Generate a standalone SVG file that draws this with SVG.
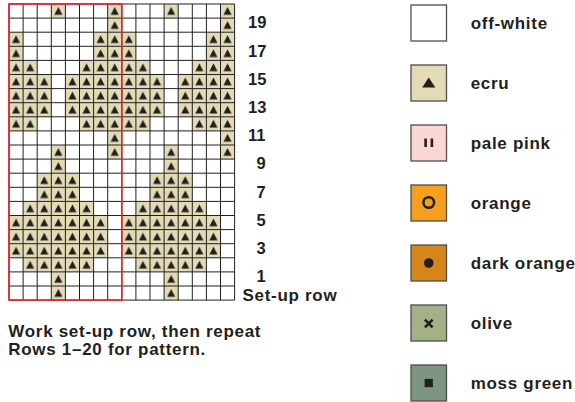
<svg xmlns="http://www.w3.org/2000/svg" width="575" height="402" viewBox="0 0 575 402">
<style>
  text { font-family: "Liberation Sans", Arial, sans-serif; font-weight: bold; fill: #231f20; }
  .lbl { font-size: 17px; letter-spacing: 0.7px; }
  .num { font-size: 16.5px; }
  .e { fill: url(#tp); }
  .grid { fill: none; stroke: #231f20; stroke-width: 1; }
  .box { stroke: #4d4d4d; stroke-width: 1.3; }
  .sym { fill: #231f20; }
</style>
<defs>
  <pattern id="tp" x="9" y="4" width="14.1" height="14.1" patternUnits="userSpaceOnUse">
    <rect width="14.1" height="14.1" fill="#e2dbb6"/>
    <path d="M3 10.8H11.1L7.05 3.1Z" fill="#231f20"/>
  </pattern>
</defs>

<g id="chart">
  <rect x="9" y="4" width="225.6" height="296.1" fill="#ffffff"/>
  <g id="ecru-cells">
    <rect class="e" x="51.3" y="4" width="14.1" height="14.1"/>
    <rect class="e" x="107.7" y="4" width="14.1" height="28.2"/>
    <rect class="e" x="164.1" y="4" width="14.1" height="14.1"/>
    <rect class="e" x="220.5" y="4" width="14.1" height="28.2"/>
    <rect class="e" x="9" y="32.2" width="14.1" height="28.2"/>
    <rect class="e" x="93.6" y="32.2" width="42.3" height="28.2"/>
    <rect class="e" x="206.4" y="32.2" width="28.2" height="28.2"/>
    <rect class="e" x="9" y="60.4" width="28.2" height="14.1"/>
    <rect class="e" x="79.5" y="60.4" width="70.5" height="14.1"/>
    <rect class="e" x="192.3" y="60.4" width="42.3" height="14.1"/>
    <rect class="e" x="9" y="74.5" width="42.3" height="42.3"/>
    <rect class="e" x="65.4" y="74.5" width="98.7" height="42.3"/>
    <rect class="e" x="178.2" y="74.5" width="56.4" height="42.3"/>
    <rect class="e" x="9" y="116.8" width="28.2" height="14.1"/>
    <rect class="e" x="79.5" y="116.8" width="70.5" height="14.1"/>
    <rect class="e" x="192.3" y="116.8" width="42.3" height="14.1"/>
    <rect class="e" x="107.7" y="130.9" width="14.1" height="28.2"/>
    <rect class="e" x="220.5" y="130.9" width="14.1" height="28.2"/>
    <rect class="e" x="51.3" y="145" width="14.1" height="28.2"/>
    <rect class="e" x="164.1" y="145" width="14.1" height="28.2"/>
    <rect class="e" x="37.2" y="173.2" width="42.3" height="28.2"/>
    <rect class="e" x="150" y="173.2" width="42.3" height="28.2"/>
    <rect class="e" x="23.1" y="201.4" width="70.5" height="14.1"/>
    <rect class="e" x="135.9" y="201.4" width="70.5" height="14.1"/>
    <rect class="e" x="9" y="215.5" width="98.7" height="42.3"/>
    <rect class="e" x="121.8" y="215.5" width="98.7" height="42.3"/>
    <rect class="e" x="23.1" y="257.8" width="70.5" height="14.1"/>
    <rect class="e" x="135.9" y="257.8" width="70.5" height="14.1"/>
    <rect class="e" x="51.3" y="271.9" width="14.1" height="28.2"/>
    <rect class="e" x="164.1" y="271.9" width="14.1" height="28.2"/>
  </g>
  <path class="grid" d="M9 4V300.1M23.1 4V300.1M37.2 4V300.1M51.3 4V300.1M65.4 4V300.1M79.5 4V300.1M93.6 4V300.1M107.7 4V300.1M121.8 4V300.1M135.9 4V300.1M150 4V300.1M164.1 4V300.1M178.2 4V300.1M192.3 4V300.1M206.4 4V300.1M220.5 4V300.1M234.6 4V300.1
  M9 4H234.6M9 18.1H234.6M9 32.2H234.6M9 46.3H234.6M9 60.4H234.6M9 74.5H234.6M9 88.6H234.6M9 102.7H234.6M9 116.8H234.6M9 130.9H234.6M9 145H234.6M9 159.1H234.6M9 173.2H234.6M9 187.3H234.6M9 201.4H234.6M9 215.5H234.6M9 229.6H234.6M9 243.7H234.6M9 257.8H234.6M9 271.9H234.6M9 286H234.6M9 300.1H234.6"/>
  <rect id="repeat-box" x="9" y="4" width="112.8" height="296.1" fill="none" stroke="#e8242b" stroke-width="1.6"/>
</g>

<g id="row-numbers">
  <text class="num" x="248" y="28.3">19</text>
  <text class="num" x="248" y="56.5">17</text>
  <text class="num" x="248" y="84.7">15</text>
  <text class="num" x="248" y="112.9">13</text>
  <text class="num" x="248" y="141.1">11</text>
  <text class="num" x="256.5" y="169.3">9</text>
  <text class="num" x="256.5" y="197.5">7</text>
  <text class="num" x="256.5" y="225.7">5</text>
  <text class="num" x="256.5" y="253.9">3</text>
  <text class="num" x="256.5" y="282.1">1</text>
  <text class="lbl" x="242.5" y="301">Set-up row</text>
</g>

<g id="note">
  <text class="lbl" x="8.3" y="337">Work set-up row, then repeat</text>
  <text class="lbl" x="8.3" y="355">Rows 1–20 for pattern.</text>
</g>

<g id="legend-off-white">
  <rect class="box" x="411" y="5" width="35.5" height="36" fill="#ffffff"/>
  <text class="lbl" x="470.7" y="28.5">off-white</text>
</g>
<g id="legend-ecru">
  <rect class="box" x="411" y="65" width="35.5" height="36" fill="#e2dbb6"/>
  <path class="sym" d="M422.2 87.5H435.3L428.75 77.5Z"/>
  <text class="lbl" x="470.7" y="88.5">ecru</text>
</g>
<g id="legend-pale-pink">
  <rect class="box" x="411" y="125" width="35.5" height="36" fill="#f8d7d5"/>
  <rect class="sym" x="424.3" y="138.5" width="2.6" height="8.5"/>
  <rect class="sym" x="430.6" y="138.5" width="2.6" height="8.5"/>
  <text class="lbl" x="470.7" y="148.5">pale pink</text>
</g>
<g id="legend-orange">
  <rect class="box" x="411" y="185" width="35.5" height="36" fill="#f59f1f"/>
  <circle cx="428.75" cy="202.5" r="5.3" fill="none" stroke="#231f20" stroke-width="2.5"/>
  <text class="lbl" x="470.7" y="208.5">orange</text>
</g>
<g id="legend-dark-orange">
  <rect class="box" x="411" y="245" width="35.5" height="36" fill="#d68619"/>
  <circle class="sym" cx="428.75" cy="263" r="4.8"/>
  <text class="lbl" x="470.7" y="268.5">dark orange</text>
</g>
<g id="legend-olive">
  <rect class="box" x="411" y="305" width="35.5" height="36" fill="#a3b186"/>
  <path d="M424.9 319.6L432.6 327.3M432.6 319.6L424.9 327.3" stroke="#231f20" stroke-width="2.6" fill="none"/>
  <text class="lbl" x="470.7" y="328.5">olive</text>
</g>
<g id="legend-moss-green">
  <rect class="box" x="411" y="365" width="35.5" height="36" fill="#7d9682"/>
  <rect class="sym" x="424.6" y="378.9" width="8.3" height="8.3"/>
  <text class="lbl" x="470.7" y="388.5">moss green</text>
</g>
</svg>
